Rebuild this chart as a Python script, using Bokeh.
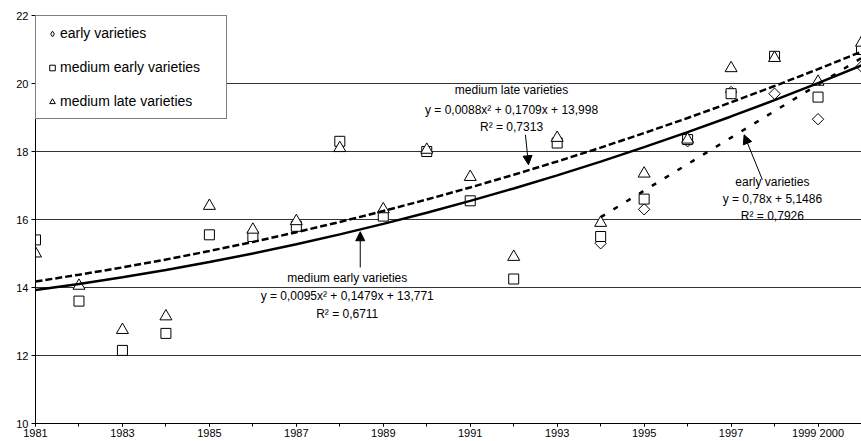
import numpy as np
from bokeh.plotting import figure
from bokeh.models import (FixedTicker, Legend, LegendItem, Arrow, NormalHead,
                          ColumnDataSource)
from bokeh.embed import file_html
from bokeh.resources import INLINE
from bokeh.core.properties import value

# ---------------- data ----------------
years = list(range(1981, 2001))
medium_early = [15.4, 13.6, 12.15, 12.65, 15.55, 15.5, 15.8, 18.3, 16.1, 18.0,
                16.55, 14.25, 18.25, 15.5, 16.6, 18.35, 19.7, 20.8, 19.6, 21.0]
medium_late = [15.0, 14.05, 12.75, 13.15, 16.4, 15.7, 15.95, 18.1, 16.3, 18.05,
               17.25, 14.9, 18.4, 15.9, 17.35, 18.35, 20.45, 20.75, 20.05, 21.2]
early_years = list(range(1994, 2001))
early = [15.3, 16.3, 18.3, 19.75, 19.7, 18.95, 20.5]

# trendline coefficients as printed on the chart (x = year - 1980)
fit_medium_late = [0.0088, 0.1709, 13.998]
fit_medium_early = [0.0095, 0.1479, 13.771]
fit_early = [0.78, 5.1486]

x_major = [1981, 1983, 1985, 1987, 1989, 1991, 1993, 1995, 1997, 1999]
y_major = [10, 12, 14, 16, 18, 20, 22]

series_labels = ["early varieties", "medium early varieties", "medium late varieties"]

ann_text = ["medium late varieties", "y = 0,0088x² + 0,1709x + 13,998", "R² = 0,7313",
            "medium early varieties", "y = 0,0095x² + 0,1479x + 13,771", "R² = 0,6711",
            "early varieties", "y = 0,78x + 5,1486", "R² = 0,7926"]
ann_x = [1991.95, 1991.95, 1991.95, 1988.17, 1988.17, 1988.17, 1997.95, 1997.95, 1997.95]
ann_y = [19.80, 19.22, 18.72, 14.27, 13.75, 13.22, 17.11, 16.61, 16.09]

# arrows: (x_start, y_start, x_end, y_end)
arrows = [(1992.27, 18.49, 1992.34, 17.61),
          (1988.47, 14.59, 1988.47, 15.64),
          (1997.72, 17.17, 1997.30, 18.49)]

FONT = "Liberation Sans"

p = figure(width=861, height=441, x_range=(1981, 2000), y_range=(10, 22),
           output_backend="svg", toolbar_location=None,
           min_border_left=35, min_border_right=0, min_border_top=15,
           min_border_bottom=0)
p.outline_line_color = None
p.background_fill_color = "white"
p.border_fill_color = "white"
p.xgrid.visible = False
p.ygrid.ticker = FixedTicker(ticks=y_major)
p.ygrid.grid_line_color = "#333333"
p.ygrid.grid_line_width = 1

xa = p.xaxis[0]
xa.ticker = FixedTicker(ticks=x_major, minor_ticks=years)
xa.major_label_overrides = {1999: "1999 2000"}
xa.major_tick_in = 0
xa.major_tick_out = 3
xa.minor_tick_in = 0
xa.minor_tick_out = 3
xa.minor_tick_line_color = "black"
xa.major_label_standoff = 0
xa.axis_label_standoff = 0

ya = p.yaxis[0]
ya.ticker = FixedTicker(ticks=y_major)
ya.major_tick_in = 0
ya.major_tick_out = 4
ya.minor_tick_line_color = None
ya.major_label_standoff = 3

for ax in (xa, ya):
    ax.axis_line_color = "black"
    ax.major_tick_line_color = "black"
    ax.major_label_text_font = FONT
    ax.major_label_text_font_size = "11px"
    ax.major_label_text_color = "black"

# markers (diamonds drawn as squares rotated 45 degrees)
p.scatter(early_years, early, marker="square", angle=np.pi / 4, size=8,
          fill_color="white", line_color="black", line_width=1)
r_me = p.scatter(years, medium_early, marker="square", size=10,
                 fill_color="white", line_color="black", line_width=1)
r_ml = p.scatter(years, medium_late, marker="triangle", size=12,
                 fill_color="white", line_color="black", line_width=1)
# legend-only glyph for the diamond series (no visible point)
r_early_leg = p.scatter(x=[np.nan], y=[np.nan], marker="diamond", size=10,
                        fill_color="white", line_color="black", line_width=1)

# trendlines
xi = np.array(years) - 1980
p.line(years, np.polyval(fit_medium_late, xi), line_color="black", line_width=2.5,
       line_dash="7 3")
p.line(years, np.polyval(fit_medium_early, xi), line_color="black", line_width=2.5)
xe = np.array(early_years) - 1980
p.line(early_years, np.polyval(fit_early, xe), line_color="black", line_width=2.5,
       line_dash="5 10")

# annotation texts
src = ColumnDataSource(dict(x=ann_x, y=ann_y, t=ann_text))
p.text(x="x", y="y", text="t", source=src, text_align="center",
       text_baseline="middle", text_font=value(FONT), text_font_size="12px",
       text_color="black")

for xs, ys, xe_, ye_ in arrows:
    p.add_layout(Arrow(end=NormalHead(size=9, fill_color="black", line_color="black"),
                       x_start=xs, y_start=ys, x_end=xe_, y_end=ye_,
                       line_color="black", line_width=1))

legend = Legend(items=[LegendItem(label=series_labels[0], renderers=[r_early_leg]),
                       LegendItem(label=series_labels[1], renderers=[r_me]),
                       LegendItem(label=series_labels[2], renderers=[r_ml])],
                location="top_left", margin=0, padding=9, spacing=18,
                glyph_width=14, glyph_height=15, label_height=15, label_width=157,
                label_standoff=1, border_line_color="black", border_line_width=1,
                background_fill_color="white", background_fill_alpha=1,
                label_text_font=FONT, label_text_font_size="14px",
                label_text_color="black")
p.add_layout(legend, "center")

open("out.html", "w").write(file_html(p, INLINE))
